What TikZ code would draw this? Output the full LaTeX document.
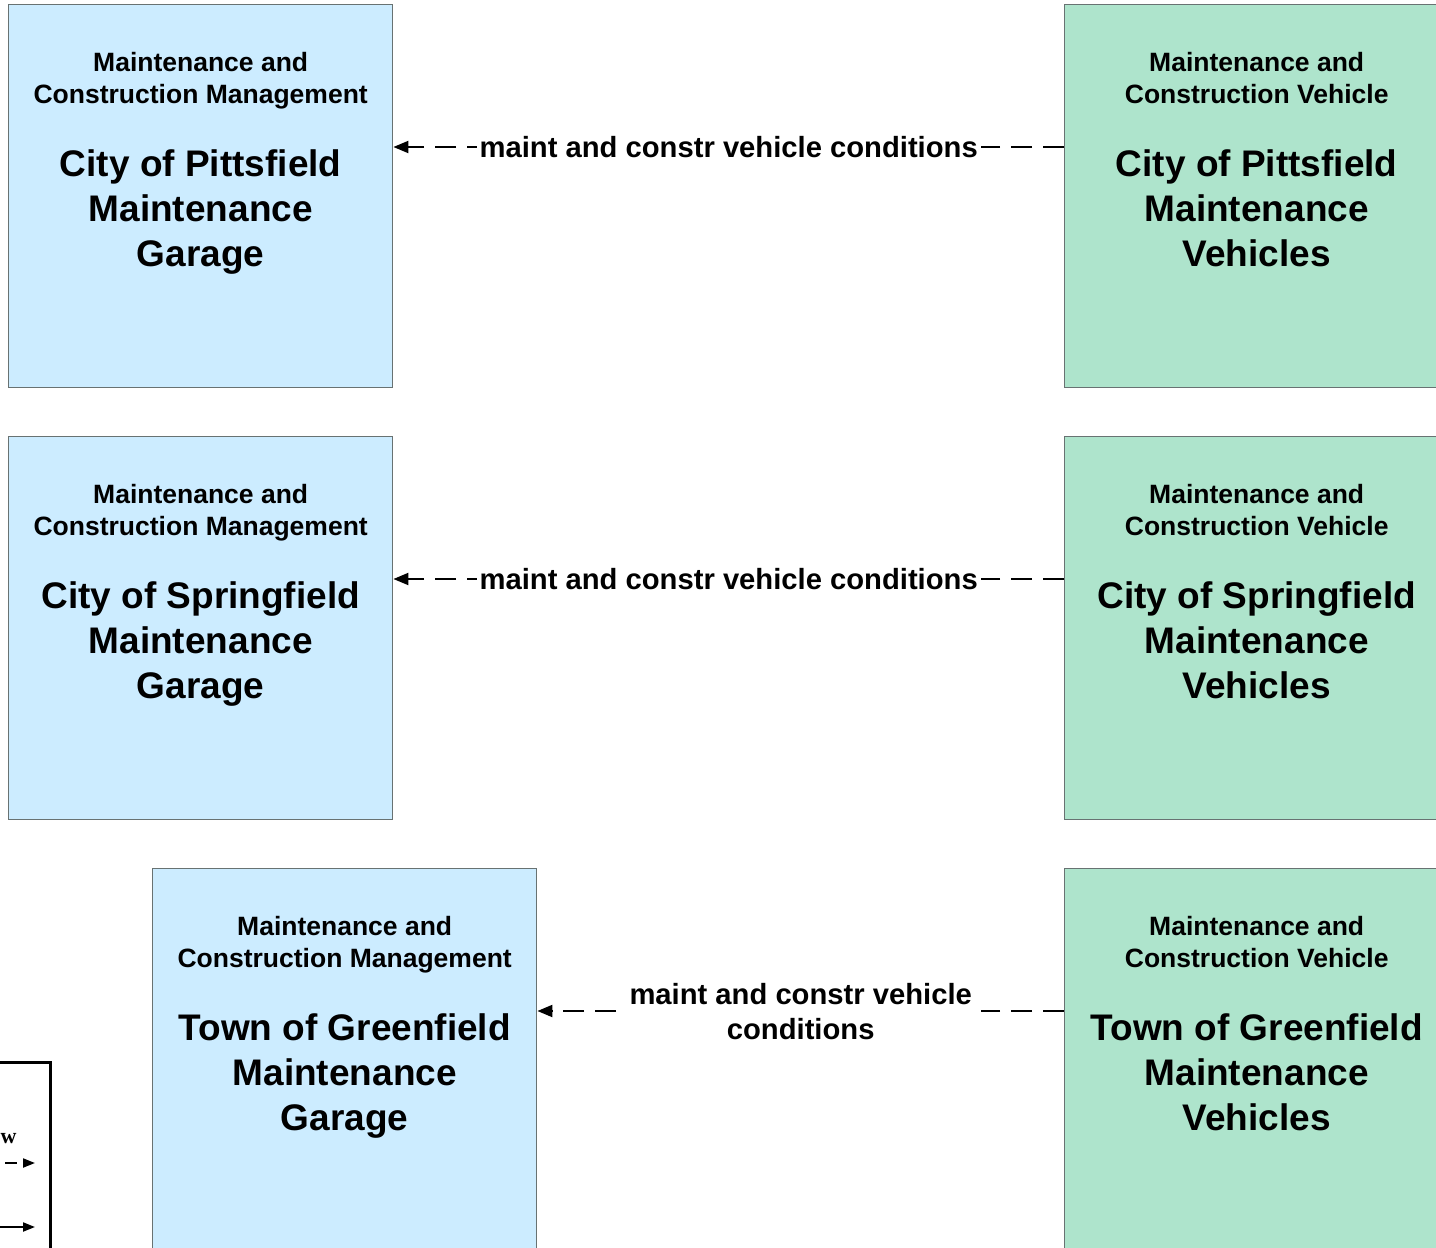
\documentclass[tikz,border=0pt]{standalone}
\usepackage{fontspec}
\setmainfont{Liberation Sans}
\newfontfamily\legendfont{Liberation Serif}
\usetikzlibrary{arrows.meta,calc}
\definecolor{mgmtfill}{HTML}{CCECFF}
\definecolor{vehfill}{HTML}{AEE4CC}
\definecolor{boxline}{HTML}{687272}
\tikzset{
  boxbase/.style={draw=boxline, line width=0.7pt, minimum width=192pt, minimum height=191.5pt, anchor=north west, inner sep=0pt},
  mgmt/.style={boxbase, fill=mgmtfill},
  veh/.style={boxbase, fill=vehfill},
  titletext/.style={anchor=north, align=center, inner sep=0pt, font={\fontsize{13.25pt}{16pt}\selectfont\bfseries}},
  nametext/.style={anchor=north, align=center, inner sep=0pt, font={\fontsize{18.5pt}{22.5pt}\selectfont\bfseries}},
  flow/.style={line width=1pt, dash pattern=on 10.5pt off 5.5pt, -{Triangle[length=7.5pt,width=6pt]}},
  flowlabel/.style={fill=white, inner sep=1.5pt, align=center, font={\fontsize{14.6pt}{17.5pt}\selectfont\bfseries}},
  legendbox/.style={draw=black, line width=1.5pt},
  legendarrow/.style={line width=1pt, -{Triangle[length=6pt,width=4.5pt]}},
}
\begin{document}
\begin{tikzpicture}[x=0.5pt,y=-0.5pt]
\useasboundingbox (0,0) rectangle (1436,1248);
% boxes
\node[mgmt] (b1) at (8,4) {};
\node[veh]  (g1) at (1064,4) {};
\node[mgmt] (b2) at (8,436) {};
\node[veh]  (g2) at (1064,436) {};
\node[mgmt] (b3) at (152,868) {};
\node[veh]  (g3) at (1064,868) {};
% texts
\node[titletext] (b1t) at ($(b1.north)+(0,48)$) {Maintenance and\\Construction Management};
\node[nametext]  (b1n) at ($(b1.north)+(0,145)$) {City of Pittsfield\\Maintenance\\Garage};
\node[titletext] (g1t) at ($(g1.north)+(0,48)$) {Maintenance and\\Construction Vehicle};
\node[nametext]  (g1n) at ($(g1.north)+(0,145)$) {City of Pittsfield\\Maintenance\\Vehicles};
\node[titletext] (b2t) at ($(b2.north)+(0,48)$) {Maintenance and\\Construction Management};
\node[nametext]  (b2n) at ($(b2.north)+(0,145)$) {City of Springfield\\Maintenance\\Garage};
\node[titletext] (g2t) at ($(g2.north)+(0,48)$) {Maintenance and\\Construction Vehicle};
\node[nametext]  (g2n) at ($(g2.north)+(0,145)$) {City of Springfield\\Maintenance\\Vehicles};
\node[titletext] (b3t) at ($(b3.north)+(0,48)$) {Maintenance and\\Construction Management};
\node[nametext]  (b3n) at ($(b3.north)+(0,145)$) {Town of Greenfield\\Maintenance\\Garage};
\node[titletext] (g3t) at ($(g3.north)+(0,48)$) {Maintenance and\\Construction Vehicle};
\node[nametext]  (g3n) at ($(g3.north)+(0,145)$) {Town of Greenfield\\Maintenance\\Vehicles};
% flows
\draw[flow] ($(g1.north west)+(0,143)$) -- ($(b1.north east)+(0,143)$)
  node[flowlabel, midway] (f1) {maint and constr vehicle conditions};
\draw[flow] ($(g2.north west)+(0,143)$) -- ($(b2.north east)+(0,143)$)
  node[flowlabel, midway] (f2) {maint and constr vehicle conditions};
\draw[flow] ($(g3.north west)+(0,143)$) -- ($(b3.north east)+(0,143)$)
  node[flowlabel, midway, inner sep=4.5pt, yshift=-0.5pt] (f3) {maint and constr vehicle\\conditions};
% legend (cropped)
\draw[legendbox] (-200,1062) -- (50,1062) -- (50,1300);
\node[anchor=base east, inner sep=0pt, font={\legendfont\fontsize{11pt}{13pt}\selectfont\bfseries}] (lw) at (17,1143) {w};
\coordinate (la1) at (5,1163);
\coordinate (la2) at (35,1163);
\coordinate (ls1) at (-20,1227);
\coordinate (ls2) at (35,1227);
\draw[legendarrow, dash pattern=on 6pt off 3pt] (la1) -- (la2);
\draw[legendarrow] (ls1) -- (ls2);
\end{tikzpicture}
\end{document}
